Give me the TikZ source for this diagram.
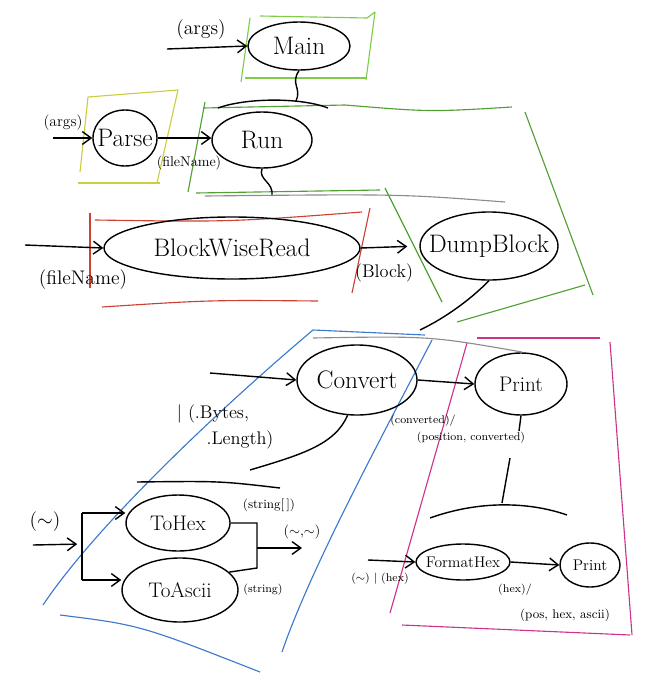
\documentclass[tikz,border=0pt]{standalone}
\usepackage{amsmath}
\usepackage{tikz}
\usetikzlibrary{shapes.geometric, arrows.meta}
\usepackage{xcolor}

\definecolor{limegreen}{RGB}{125,205,75}
\definecolor{leafgreen}{RGB}{80,160,50}
\definecolor{mustard}{RGB}{205,205,65}
\definecolor{brickred}{RGB}{205,65,50}
\definecolor{penblue}{RGB}{60,120,205}
\definecolor{penmagenta}{RGB}{205,50,140}
\definecolor{pengray}{RGB}{140,140,140}

\tikzset{
  proc/.style={ellipse, draw, line width=1pt, inner xsep=-3mm, inner ysep=0pt},
  flow/.style={line width=1pt, -{Straight Barb[length=2.2mm, width=3.2mm]}},
  link/.style={line width=1pt},
  region/.style={line width=0.8pt},
  bigtxt/.style={font=\fontsize{18}{20}\selectfont},
  midtxt/.style={font=\fontsize{15}{17}\selectfont},
  smalltxt/.style={font=\fontsize{11}{13}\selectfont}
}

\begin{document}
\begin{tikzpicture}[x=0.25mm, y=-0.25mm]
    \useasboundingbox (0,0) rectangle (655,680);

    % Grupo Main (verde claro)
    \draw[region, limegreen] (260,16) -- (367,18) -- (375,12);
    \draw[region, limegreen] (250,18) -- (241,82);
    \draw[region, limegreen] (245,78) -- (367,78);
    \draw[region, limegreen] (375,12) -- (366,80);

    % Grupo Run (verde)
    \draw[region, leafgreen] (203,108) -- (345,105) .. controls (430,112) .. (512,107);
    \draw[region, leafgreen] (205,102) -- (188,192);
    \draw[region, leafgreen] (196,193) -- (380,190);
    \draw[region, leafgreen] (385,188) -- (442,302);
    \draw[region, leafgreen] (525,112) -- (593,295);
    \draw[region, leafgreen] (457,322) -- (585,285);

    % Grupo Parse (amarelo)
    \draw[region, mustard] (88,97) -- (178,90) -- (157,183);
    \draw[region, mustard] (88,97) -- (80,172);
    \draw[region, mustard] (78,183) -- (160,183);

    % Grupo BlockWiseRead (vermelho)
    \draw[region, brickred] (95,220) .. controls (230,222) .. (362,212);
    \draw[region, brickred] (90,213) -- (90,288);
    \draw[region, brickred] (102,307) .. controls (210,300) .. (318,301);
    \draw[region, brickred] (370,208) -- (352,293);

    % Grupo Convert (azul)
    \draw[region, penblue] (313,330) -- (425,335);
    \draw[region, penblue] (313,330) .. controls (230,400) and (100,520) .. (43,605);
    \draw[region, penblue] (432,340) .. controls (380,440) and (310,570) .. (282,652);
    \draw[region, penblue] (60,615) .. controls (140,625) .. (260,672);

    % Grupo Print (magenta)
    \draw[region, penmagenta] (477,338) -- (600,338);
    \draw[region, penmagenta] (467,343) -- (390,613);
    \draw[region, penmagenta] (402,625) -- (630,635);
    \draw[region, penmagenta] (610,342) -- (632,635);

    % Processos
    \node[proc, bigtxt, minimum width=25.5mm, minimum height=12mm] (main) at (299,46) {Main};
    \node[proc, bigtxt, minimum width=16mm, minimum height=14mm] (parse) at (125,138) {Parse};
    \node[proc, bigtxt, minimum width=25mm, minimum height=14mm] (run) at (262,140) {Run};
    \node[proc, bigtxt, minimum width=64mm, minimum height=15.5mm] (bwr) at (232,248) {BlockWiseRead};
    \node[proc, bigtxt, minimum width=34.5mm, minimum height=17mm] (dump) at (489,246) {DumpBlock};
    \node[proc, bigtxt, minimum width=30mm, minimum height=17.5mm] (convert) at (357,380) {Convert};
    \node[proc, midtxt, minimum width=23mm, minimum height=15.5mm] (print) at (521,384) {Print};
    \node[proc, midtxt, minimum width=26mm, minimum height=14mm] (tohex) at (178,523) {ToHex};
    \node[proc, midtxt, minimum width=29mm, minimum height=16mm] (toascii) at (180,590) {ToAscii};
    \node[proc, smalltxt, minimum width=23.5mm, minimum height=9mm] (fmthex) at (463,562) {FormatHex};
    \node[proc, smalltxt, minimum width=15mm, minimum height=11mm] (printhex) at (590,565) {Print};

    % Main
    \coordinate (argsA) at (167,49);
    \draw[flow] (argsA) -- (main.west);
    \node[font=\fontsize{14}{16}\selectfont] at (201,30) {(args)};

    % Parse -> Run
    \coordinate (argsB) at (53,138);
    \draw[flow] (argsB) -- (parse.west);
    \node[font=\fontsize{11}{13}\selectfont] at (63,123) {(args)};
    \draw[flow] (parse.east) -- (parse.east -| run.west);
    \node[font=\fontsize{10}{12}\selectfont] at (189,163) {(fileName)};

    % Main -> filhos
    \coordinate (mainBr) at (296,101);
    \coordinate (mainBrL) at (218,108);
    \coordinate (mainBrR) at (328,108);
    \draw[link] (main.south) .. controls (290,84) and (302,88) .. (mainBr);
    \draw[link] (mainBrL) .. controls (245,98) and (300,97) .. (mainBrR);

    % Run -> filhos
    \coordinate (runBr) at (272,196);
    \coordinate (runBrL) at (205,196);
    \coordinate (runBrR) at (505,202);
    \draw[link] (run.south) .. controls (258,180) and (274,182) .. (runBr);
    \draw[pengray, line width=0.8pt] (runBrL) .. controls (400,194) .. (runBrR);

    % BlockWiseRead -> DumpBlock
    \coordinate (fileIn) at (25,245);
    \draw[flow] (fileIn) -- (bwr.west);
    \node[font=\fontsize{14}{16}\selectfont] at (83,280) {(fileName)};
    \draw[flow, shorten >=3mm] (bwr.east) -- (dump.west);
    \node[font=\fontsize{13}{15}\selectfont] at (384,273) {(Block)};

    % DumpBlock -> filhos
    \coordinate (dumpBr) at (420,330);
    \coordinate (dumpBrL) at (313,338);
    \coordinate (dumpBrR) at (522,352);
    \draw[link] (dump.south) .. controls (470,300) and (445,318) .. (dumpBr);
    \draw[pengray, line width=0.8pt] (dumpBrL) .. controls (430,336) .. (dumpBrR);

    % Convert -> Print
    \coordinate (bytesIn) at (210,373);
    \draw[flow] (bytesIn) -- (convert.west);
    \node[font=\fontsize{13}{15}\selectfont] at (213,414) {| (.Bytes,};
    \node[font=\fontsize{13}{15}\selectfont] at (240,440) {.Length)};
    \draw[flow] (convert.east) -- (print.west);
    \node[font=\fontsize{8}{10}\selectfont] at (423,421) {(converted)/};
    \node[font=\fontsize{8}{10}\selectfont] at (471,438) {(position, converted)};

    % Convert -> filhos
    \coordinate (convBr) at (250,470);
    \coordinate (convBrL) at (137,482);
    \coordinate (convBrR) at (280,488);
    \draw[link] (convert.255) .. controls (335,445) and (300,455) .. (convBr);
    \draw[link] (convBrL) .. controls (220,481) .. (convBrR);

    % Print -> filhos
    \coordinate (printCutA) at (519,431);
    \coordinate (printCutB) at (510,458);
    \coordinate (printBr) at (502,503);
    \coordinate (printBrL) at (430,518);
    \coordinate (printBrR) at (567,515);
    \draw[link] (print.south) -- (printCutA);
    \draw[link] (printCutB) -- (printBr);
    \draw[link] (printBrL) .. controls (480,500) and (530,502) .. (printBrR);

    % ToHex / ToAscii
    \coordinate (tildeIn) at (33,545);
    \coordinate (forkTop) at (82,513);
    \coordinate (forkMid) at (82,544);
    \coordinate (forkBot) at (82,580);
    \draw[flow, shorten >=1.2mm] (tildeIn) -- (forkMid);
    \draw[link] (forkTop) -- (forkBot);
    \draw[flow] (forkTop) -- (forkTop -| tohex.west);
    \draw[flow] (forkBot) -- (forkBot -| toascii.west);
    \node[font=\fontsize{14}{16}\selectfont] at (45,522) {($\sim$)};

    \coordinate (joinBot) at (257,568);
    \coordinate (joinMid) at (257,548);
    \coordinate (hexOut) at (302,548);
    \draw[link] (tohex.east) -| (joinBot) -- (toascii.20);
    \draw[flow] (joinMid) -- (hexOut);
    \node[font=\fontsize{9}{11}\selectfont] at (269,505) {(string[\,])};
    \node[font=\fontsize{10}{12}\selectfont] at (302,532) {($\sim$,$\sim$)};
    \node[font=\fontsize{8}{10}\selectfont] at (263,590) {(string)};

    % FormatHex -> Print
    \coordinate (fmtIn) at (368,560);
    \draw[flow] (fmtIn) -- (fmthex.west);
    \node[font=\fontsize{8}{10}\selectfont] at (380,579) {($\sim$) | (hex)};
    \draw[flow] (fmthex.east) -- (printhex.west);
    \node[font=\fontsize{8}{10}\selectfont] at (515,590) {(hex)/};
    \node[font=\fontsize{9}{11}\selectfont] at (565,615) {(pos, hex, ascii)};
\end{tikzpicture}
\end{document}
